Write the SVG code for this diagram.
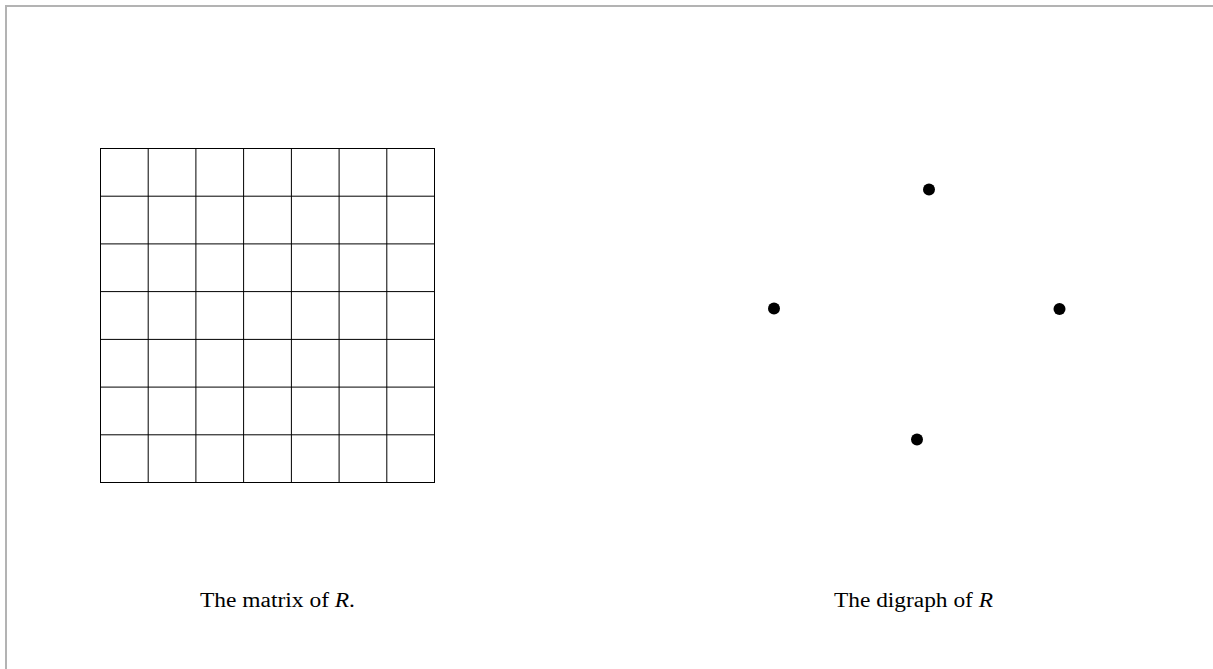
<svg xmlns="http://www.w3.org/2000/svg" width="1213" height="669" viewBox="0 0 1213 669">
<style>
.frame{fill:none;stroke:#b3b3b3;stroke-width:2}
.grid{fill:none;stroke:#000;stroke-width:1}
.dot{fill:#000}
.lbl{font-family:"Liberation Serif",serif;font-size:20px;fill:#000}
</style>
<rect width="1213" height="669" fill="#fff"/>
<path class="frame" d="M6,669 V6 H1213"/>
<g id="matrix">
<rect class="grid" x="100.5" y="148.5" width="334" height="334"/>
<path class="grid" d="M148.2,148.5V482.5M195.9,148.5V482.5M243.6,148.5V482.5M291.4,148.5V482.5M339.1,148.5V482.5M386.8,148.5V482.5M100.5,196.2H434.5M100.5,243.9H434.5M100.5,291.6H434.5M100.5,339.4H434.5M100.5,387.1H434.5M100.5,434.8H434.5"/>
</g>
<g id="connectors"></g>
<g id="v1"><circle class="dot" cx="929" cy="189.5" r="6"/></g>
<g id="v2"><circle class="dot" cx="774" cy="308.5" r="6"/></g>
<g id="v3"><circle class="dot" cx="1059.5" cy="309" r="6"/></g>
<g id="v4"><circle class="dot" cx="917" cy="439.5" r="6"/></g>
<text class="lbl" x="200" y="606.5" textLength="155" lengthAdjust="spacingAndGlyphs">The matrix of <tspan font-style="italic">R</tspan>.</text>
<text class="lbl" x="834" y="606.5" textLength="159" lengthAdjust="spacingAndGlyphs">The digraph of <tspan font-style="italic">R</tspan></text>
</svg>
